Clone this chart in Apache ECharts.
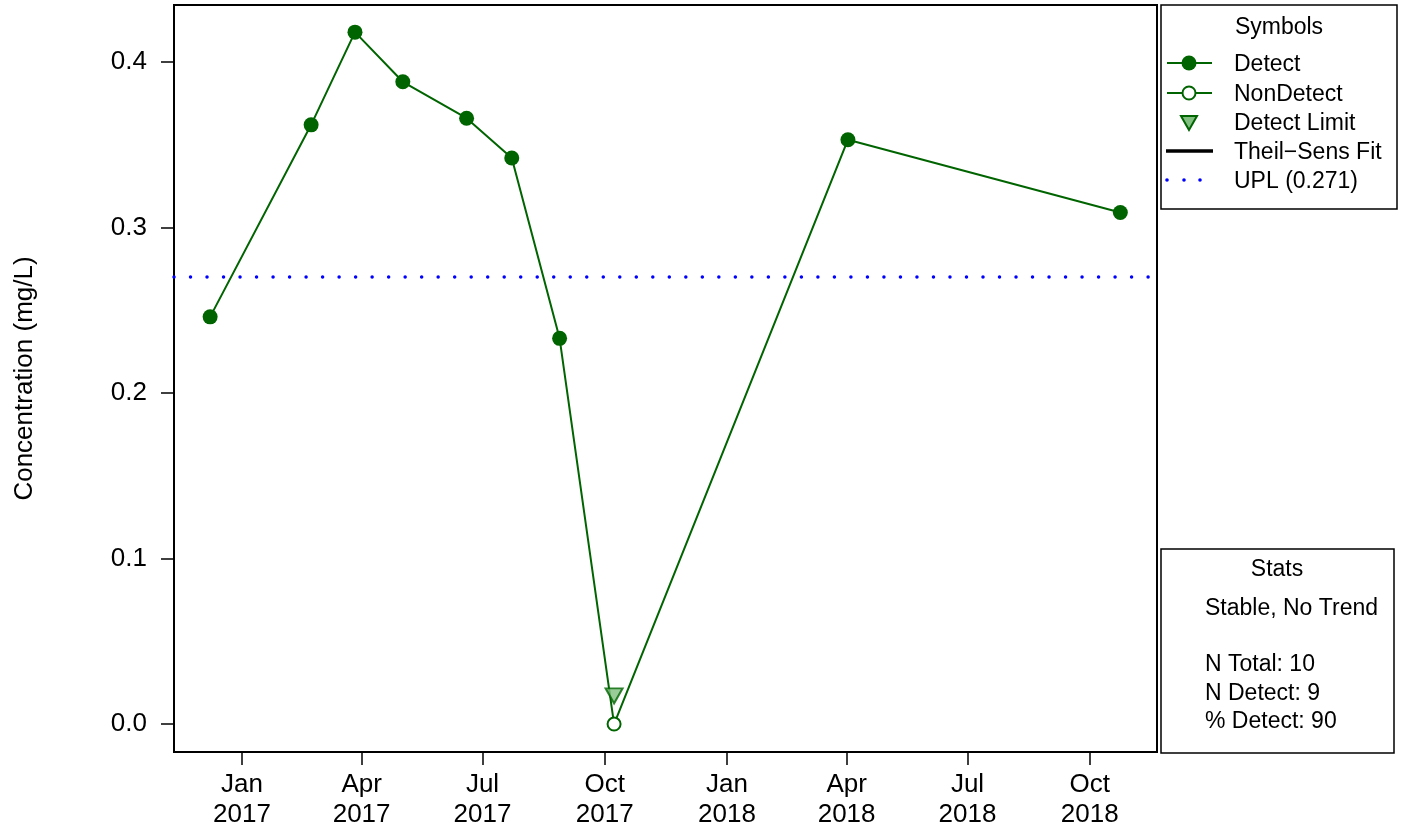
<!DOCTYPE html>
<html>
<head>
<meta charset="utf-8">
<title>Concentration</title>
<script src="https://cdn.jsdelivr.net/npm/echarts@6/dist/echarts.min.js"></script>
<style>
    html, body { margin: 0; padding: 0; background: #fff; }
    #chart { width: 1402px; height: 827px; }
</style>
</head>
<body>
<div id="chart"></div>
<script>
// sample dates and values
var sampleDates = ['2016-12-08', '2017-02-22', '2017-03-27', '2017-05-02', '2017-06-19',
                   '2017-07-23', '2017-08-28', '2017-10-08', '2018-04-02', '2018-10-24'];
var concValues = [0.246, 0.362, 0.418, 0.388, 0.366, 0.342, 0.233, 0.0, 0.353, 0.309];
var detectFlags = [1, 1, 1, 1, 1, 1, 1, 0, 1, 1];
var detectLimitDates = ['2017-10-08'];
var detectLimitValues = [0.017];
var uplValue = 0.271;

// axis ticks
var xTickDates = ['2017-01-01', '2017-04-01', '2017-07-01', '2017-10-01',
                  '2018-01-01', '2018-04-01', '2018-07-01', '2018-10-01'];
var monthNames = ['Jan', 'Feb', 'Mar', 'Apr', 'May', 'Jun', 'Jul', 'Aug', 'Sep', 'Oct', 'Nov', 'Dec'];
var yTicks = [0.0, 0.1, 0.2, 0.3, 0.4];

var statsLines = ['Stable, No Trend', '', 'N Total: 10', 'N Detect: 9', '% Detect: 90'];

var DAY = 86400000;
var GREEN = '#006400';
var FONT = 'Liberation Sans, Arial, sans-serif';

var xMin = Date.parse('2017-01-01') - 51.2 * DAY;
var xMax = xMin + 739.8 * DAY;

var lineData = sampleDates.map(function(d, i){
    var item = { value: [Date.parse(d), concValues[i]] };
    if(!detectFlags[i]){
        item.symbolSize = 13;
        item.itemStyle = { color: '#fff', borderColor: GREEN, borderWidth: 2 };
    }
    return item;
});
var limitData = detectLimitDates.map(function(d, i){
    return [Date.parse(d), detectLimitValues[i]];
});

function legendText(x, y, txt, align){
    return {
        type: 'text', x: x, y: y + 2,
        style: { text: txt, font: '23px ' + FONT, fill: '#000', align: align || 'left', verticalAlign: 'middle' }
    };
}

function buildGraphics(){
    var g = [];
    // symbols legend
    g.push({ type: 'rect', shape: { x: 1161, y: 5, width: 236, height: 204 },
             style: { fill: '#fff', stroke: '#000', lineWidth: 1.5 } });
    g.push(legendText(1279, 26, 'Symbols', 'center'));
    var rows = [63, 93, 122, 151, 180];
    g.push({ type: 'line', shape: { x1: 1167, y1: rows[0], x2: 1212, y2: rows[0] }, style: { stroke: GREEN, lineWidth: 2 } });
    g.push({ type: 'circle', shape: { cx: 1189, cy: rows[0], r: 7.5 }, style: { fill: GREEN } });
    g.push({ type: 'line', shape: { x1: 1167, y1: rows[1], x2: 1212, y2: rows[1] }, style: { stroke: GREEN, lineWidth: 2 } });
    g.push({ type: 'circle', shape: { cx: 1189, cy: rows[1], r: 6.5 }, style: { fill: '#fff', stroke: GREEN, lineWidth: 2 } });
    g.push({ type: 'polygon', shape: { points: [[1181, rows[2] - 6], [1197, rows[2] - 6], [1189, rows[2] + 8]] },
             style: { fill: '#80bf80', stroke: GREEN, lineWidth: 2 } });
    g.push({ type: 'line', shape: { x1: 1166, y1: rows[3], x2: 1213, y2: rows[3] }, style: { stroke: '#000', lineWidth: 3.5 } });
    [1167, 1184, 1200].forEach(function(cx){
        g.push({ type: 'circle', shape: { cx: cx, cy: rows[4], r: 1.8 }, style: { fill: '#0000ff' } });
    });
    g.push(legendText(1234, rows[0], 'Detect'));
    g.push(legendText(1234, rows[1], 'NonDetect'));
    g.push(legendText(1234, rows[2], 'Detect Limit'));
    g.push(legendText(1234, rows[3], 'Theil\u2212Sens Fit'));
    g.push(legendText(1234, rows[4], 'UPL (' + uplValue.toFixed(3) + ')'));

    // stats box
    g.push({ type: 'rect', shape: { x: 1161, y: 549, width: 233, height: 204 },
             style: { fill: '#fff', stroke: '#000', lineWidth: 1.5 } });
    g.push(legendText(1277, 568, 'Stats', 'center'));
    var statY = [607, 635, 663, 692, 720];
    for(var i = 0; i < statsLines.length; i++){
        if(statsLines[i]){
            g.push(legendText(1205, statY[i], statsLines[i]));
        }
    }
    return g;
}

var option = {
    animation: false,
    backgroundColor: '#fff',
    textStyle: { fontFamily: FONT },
    grid: {
        left: 174, right: 245, top: 5, bottom: 75,
        outerBoundsMode: 'none',
        containLabel: false,
        show: true, borderColor: '#000', borderWidth: 2, backgroundColor: 'transparent'
    },
    xAxis: {
        type: 'value',
        min: xMin,
        max: xMax,
        splitLine: { show: false },
        axisLine: { show: false, onZero: false },
        axisTick: {
            show: true, length: 13, customValues: xTickDates.map(function(d){ return Date.parse(d); }),
            lineStyle: { color: '#000', width: 1.5 }
        },
        axisLabel: {
            customValues: xTickDates.map(function(d){ return Date.parse(d); }),
            margin: 18,
            fontSize: 26,
            lineHeight: 30,
            color: '#000',
            fontFamily: FONT,
            formatter: function(val){
                var d = new Date(val);
                return monthNames[d.getUTCMonth()] + '\n' + d.getUTCFullYear();
            }
        }
    },
    yAxis: {
        type: 'value',
        min: -0.0169,
        max: 0.4344,
        name: 'Concentration (mg/L)',
        nameLocation: 'middle',
        nameGap: 136,
        nameTextStyle: { fontSize: 26, color: '#000', fontFamily: FONT },
        splitLine: { show: false },
        axisLine: { show: false, onZero: false },
        axisTick: {
            show: true, length: 13, customValues: yTicks,
            lineStyle: { color: '#000', width: 1.5 }
        },
        axisLabel: {
            customValues: yTicks,
            margin: 27,
            fontSize: 26,
            color: '#000',
            fontFamily: FONT,
            formatter: function(val){ return val.toFixed(1); }
        }
    },
    series: [
        {
            name: 'Detect',
            type: 'line',
            data: lineData,
            symbol: 'circle',
            symbolSize: 15,
            itemStyle: { color: GREEN },
            lineStyle: { color: GREEN, width: 2 },
            z: 3,
            markLine: {
                silent: true,
                symbol: 'none',
                label: { show: false },
                lineStyle: { color: '#0000ff', width: 3.5, type: [0.01, 16.5], cap: 'round' },
                data: [{ yAxis: uplValue }]
            }
        },
        {
            name: 'Detect Limit',
            type: 'scatter',
            data: limitData,
            symbol: 'triangle',
            symbolRotate: 180,
            symbolSize: [17, 15],
            itemStyle: { color: '#80bf80', borderColor: GREEN, borderWidth: 2 },
            z: 4
        }
    ],
    graphic: buildGraphics()
};

var myChart = echarts.init(document.getElementById('chart'));
myChart.setOption(option);
</script>
</body>
</html>
